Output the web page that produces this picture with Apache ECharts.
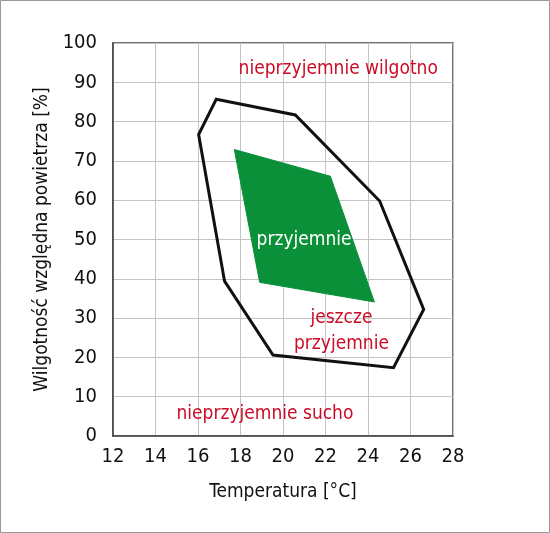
<!DOCTYPE html>
<html>
<head>
<meta charset="utf-8">
<script src="https://cdn.jsdelivr.net/npm/echarts@6/dist/echarts.min.js"></script>
<style>
html,body{margin:0;padding:0;background:#fff;}
#c{width:550px;height:533px;}
</style>
</head>
<body>
<div id="c"></div>
<script>
// Outer polygon (acceptable zone): [temperature °C, relative humidity %]
const outerZone = [
  [16.86, 85.7],
  [20.58, 81.7],
  [24.55, 59.8],
  [26.62, 32.2],
  [25.2, 17.4],
  [19.53, 20.6],
  [17.25, 39.4],
  [16.03, 76.7]
];
// Inner polygon (comfortable zone)
const comfortZone = [
  [17.71, 72.9],
  [22.23, 66.1],
  [24.3, 34.1],
  [18.9, 39.1]
];
// Text annotations
const labelTexts = ['nieprzyjemnie wilgotno', 'przyjemnie', 'jeszcze\nprzyjemnie', 'nieprzyjemnie sucho'];
const labelPoints = [[22.6, 93.4], [20.99, 49.8], [22.75, 26.6], [19.15, 5.7]];
const xTicks = [12, 14, 16, 18, 20, 22, 24, 26, 28];
const yTicks = [0, 10, 20, 30, 40, 50, 60, 70, 80, 90, 100];

const FONT = '"DejaVu Sans Condensed", "Liberation Sans", sans-serif';
const RED = '#cc0c26';

function polygonSeries(points, style, z) {
  return {
    type: 'custom',
    z: z,
    silent: true,
    data: [0],
    renderItem: function (params, api) {
      const pts = points.map(p => api.coord(p));
      return { type: 'polygon', shape: { points: pts }, style: style };
    }
  };
}

const chart = echarts.init(document.getElementById('c'), null, { renderer: 'canvas' });
chart.setOption({
  animation: false,
  backgroundColor: '#fff',
  graphic: [{
    type: 'rect', shape: { x: 0.5, y: 0.5, width: 549, height: 532 },
    style: { fill: 'none', stroke: '#9a9a9a', lineWidth: 1 }, silent: true
  }],
  grid: { left: 113, right: 97, top: 43, bottom: 97, show: true, borderColor: '#444', borderWidth: 1.5, backgroundColor: 'transparent' },
  xAxis: {
    type: 'value', min: xTicks[0], max: xTicks[xTicks.length - 1], interval: 2,
    name: 'Temperatura [°C]', nameLocation: 'middle', nameGap: 47,
    nameTextStyle: { fontFamily: FONT, fontSize: 19, color: '#111' },
    axisLine: { show: true, lineStyle: { color: '#444', width: 1.5 } },
    axisTick: { show: false },
    axisLabel: { fontFamily: FONT, fontSize: 20, color: '#111', margin: 11 },
    splitLine: { show: true, lineStyle: { color: '#c4c4c4', width: 1 } }
  },
  yAxis: {
    type: 'value', min: yTicks[0], max: yTicks[yTicks.length - 1], interval: 10,
    name: 'Wilgotność względna powietrza [%]', nameLocation: 'middle', nameGap: 60,
    nameTextStyle: { fontFamily: FONT, fontSize: 19, color: '#111' },
    axisLine: { show: true, lineStyle: { color: '#444', width: 1.5 } },
    axisTick: { show: false },
    axisLabel: { fontFamily: FONT, fontSize: 20, color: '#111', margin: 16 },
    splitLine: { show: true, lineStyle: { color: '#c4c4c4', width: 1 } }
  },
  series: [
    polygonSeries(outerZone, { fill: 'none', stroke: '#111', lineWidth: 3, lineJoin: 'miter' }, 3),
    polygonSeries(comfortZone, { fill: '#0a9038', stroke: '#0a9038', lineWidth: 1 }, 4),
    {
      type: 'scatter', z: 10, silent: true, symbolSize: 0,
      itemStyle: { opacity: 1 },
      data: labelPoints.map((p, i) => ({
        value: p,
        label: {
          show: true, position: 'inside', formatter: labelTexts[i],
          fontFamily: FONT, fontSize: 19, lineHeight: 26, opacity: 1,
          color: i === 1 ? '#ffffff' : RED
        }
      }))
    }
  ]
});
</script>
</body>
</html>
